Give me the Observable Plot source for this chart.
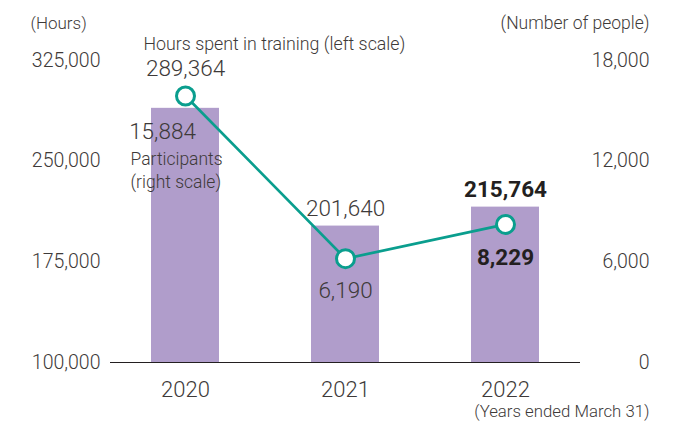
<!DOCTYPE html>
<html>
<head>
<meta charset="utf-8">
<script src="https://cdn.jsdelivr.net/npm/d3@7"></script>
<script src="https://cdn.jsdelivr.net/npm/@observablehq/plot@0.6"></script>
<style>
  html, body { margin: 0; padding: 0; background: #fff; }
  svg { display: block; }
</style>
</head>
<body>
<div id="chart"></div>
<script>
const years = ["2020", "2021", "2022"];
const hours = [289364, 201640, 215764];
const participants = [15884, 6190, 8229];
const leftTicks = [100000, 175000, 250000, 325000];
const rightTicks = [0, 6000, 12000, 18000];

const hMin = 100000, hMax = 325000, pMax = 18000;
const pToH = p => hMin + p / pMax * (hMax - hMin);
const fmt = d3.format(",");

const rows = years.map((year, i) => ({year, hours: hours[i], people: participants[i], peopleY: pToH(participants[i])}));

const teal = "#0a9e8e";
const purple = "#b09dcb";
const font = "Roboto, 'Noto Sans', sans-serif";
const grey = "#3e3a39";
const light = 300;

const chart = Plot.plot({
  width: 681,
  height: 427,
  marginLeft: 110,
  marginRight: 101,
  marginTop: 60,
  marginBottom: 65,
  style: {fontFamily: font, background: "#fff"},
  x: {domain: years, paddingInner: 0.575, paddingOuter: 0.256},
  y: {domain: [hMin, hMax]},
  marks: [
    Plot.barY(rows, {x: "year", y1: hMin, y2: "hours", fill: purple}),
    Plot.ruleY([hMin], {stroke: "#231f20", strokeWidth: 1.2}),
    Plot.axisY({anchor: "left", ticks: leftTicks, tickSize: 0, tickPadding: 10, tickFormat: fmt, fontSize: 19.5, fontWeight: light, fill: grey, label: null}),
    Plot.axisY({anchor: "right", ticks: leftTicks, tickSize: 0, tickPadding: 69, textAnchor: "end",
      tickFormat: d => fmt(rightTicks[leftTicks.indexOf(d)]), fontSize: 19.5, fontWeight: light, fill: grey, label: null}),
    Plot.axisX({tickSize: 0, tickPadding: 19, fontSize: 22, fontWeight: light, fill: grey, label: null}),
    Plot.line(rows, {x: "year", y: "peopleY", stroke: teal, strokeWidth: 2.7}),
    Plot.dot(rows, {x: "year", y: "peopleY", r: 9, fill: "#fff", stroke: teal, strokeWidth: 3}),
    // unit labels
    Plot.text(["(Hours)"], {frameAnchor: "top-left", textAnchor: "start", dx: -80, dy: -44, fontSize: 17, fontWeight: light, fill: grey}),
    Plot.text(["(Number of people)"], {frameAnchor: "top-right", textAnchor: "end", dx: 69, dy: -44, fontSize: 17.5, fontWeight: light, fill: grey}),
    Plot.text(["(Years ended March 31)"], {frameAnchor: "bottom-right", textAnchor: "end", dx: 69, dy: 54, fontSize: 16.8, fontWeight: light, fill: grey}),
    // 2020 annotations
    Plot.text([rows[0]], {x: "year", y: "hours", text: () => "Hours spent in training (left scale)", textAnchor: "start", dx: -42, dy: -64, fontSize: 17.8, fontWeight: light, fill: grey}),
    Plot.text([rows[0]], {x: "year", y: "hours", text: d => fmt(d.hours), dy: -40, fontSize: 22.5, fontWeight: light, fill: grey}),
    Plot.text([rows[0]], {x: "year", y: "peopleY", text: d => fmt(d.people), dx: -23, dy: 36, fontSize: 22.5, fontWeight: light, fill: grey}),
    Plot.text([rows[0]], {x: "year", y: "peopleY", text: () => "Participants", textAnchor: "start", dx: -55, dy: 63, fontSize: 17.5, fontWeight: light, fill: grey}),
    Plot.text([rows[0]], {x: "year", y: "peopleY", text: () => "(right scale)", textAnchor: "start", dx: -55, dy: 86, fontSize: 17.5, fontWeight: light, fill: grey}),
    // 2021 annotations
    Plot.text([rows[1]], {x: "year", y: "hours", text: d => fmt(d.hours), dy: -17, fontSize: 22.5, fontWeight: light, fill: grey}),
    Plot.text([rows[1]], {x: "year", y: "peopleY", text: d => fmt(d.people), dy: 32, fontSize: 22.5, fontWeight: light, fill: grey}),
    // 2022 annotations (bold)
    Plot.text([rows[2]], {x: "year", y: "hours", text: d => fmt(d.hours), dy: -17, fontSize: 22.5, fontWeight: "bold", fill: "#231f20"}),
    Plot.text([rows[2]], {x: "year", y: "peopleY", text: d => fmt(d.people), dy: 33, fontSize: 22.5, fontWeight: "bold", fill: "#231f20"})
  ]
});
document.getElementById("chart").appendChild(chart);
</script>
</body>
</html>
